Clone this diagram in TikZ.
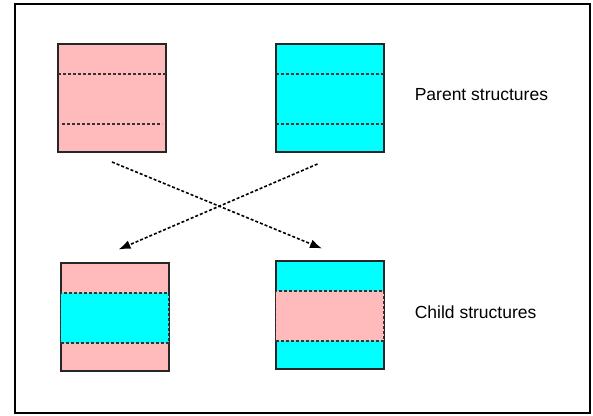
\documentclass[tikz,border=0pt]{standalone}
\usepackage{fontspec}
\setmainfont{Liberation Sans}
\usetikzlibrary{arrows.meta}
\definecolor{pinkc}{RGB}{255,187,187}
\definecolor{cyanc}{RGB}{0,255,255}
\begin{document}
\begin{tikzpicture}[x=1pt,y=-1pt,
  box/.style={draw=black!85, line width=2pt, minimum width=108pt, minimum height=108pt, inner sep=0pt, outer sep=0pt},
  sep/.style={draw=black!80, dash pattern=on 3pt off 2pt, line width=1.2pt},
  band/.style={sep},
  link/.style={line width=1.6pt, dash pattern=on 3pt off 2pt, -{Latex[length=12pt,width=9pt]}},
  lbl/.style={font=\fontsize{17.5}{20}\selectfont, anchor=west, inner sep=0pt}]
\useasboundingbox (0,0) rectangle (593,415);
\node[draw, line width=1.5pt, minimum width=575pt, minimum height=409pt, inner sep=0pt, anchor=north west] (frame) at (14.4,3) {};

% parent boxes
\node[box, fill=pinkc] (p1) at (112.3,98) {};
\draw[sep] (p1.west |- 0,74) -- (p1.east |- 0,74);
\draw[sep] ([xshift=4pt]p1.west |- 0,124) -- ([xshift=-4pt]p1.east |- 0,124);

\node[box, fill=cyanc] (p2) at (329.5,98) {};
\draw[sep] (p2.west |- 0,74) -- (p2.east |- 0,74);
\draw[sep] (p2.west |- 0,124) -- (p2.east |- 0,124);

% child boxes
\node[box, fill=pinkc] (c1) at (114.5,317) {};
\filldraw[band, fill=cyanc] (c1.west |- 0,293) rectangle (c1.east |- 0,343);

\node[box, fill=cyanc] (c2) at (329.5,315) {};
\filldraw[band, fill=pinkc] (c2.west |- 0,291) rectangle (c2.east |- 0,341);

% labels
\node[lbl] (lp) at (414.6,94.5) {Parent structures};
\node[lbl] (lc) at (414.6,312.7) {Child structures};

% connectors
\coordinate (a1s) at (112,162);
\coordinate (a1e) at (322,248.5);
\coordinate (a2s) at (317.5,164);
\coordinate (a2e) at (118.5,249.5);
\draw[link] (a1s) -- (a1e);
\draw[link] (a2s) -- (a2e);
\end{tikzpicture}
\end{document}
